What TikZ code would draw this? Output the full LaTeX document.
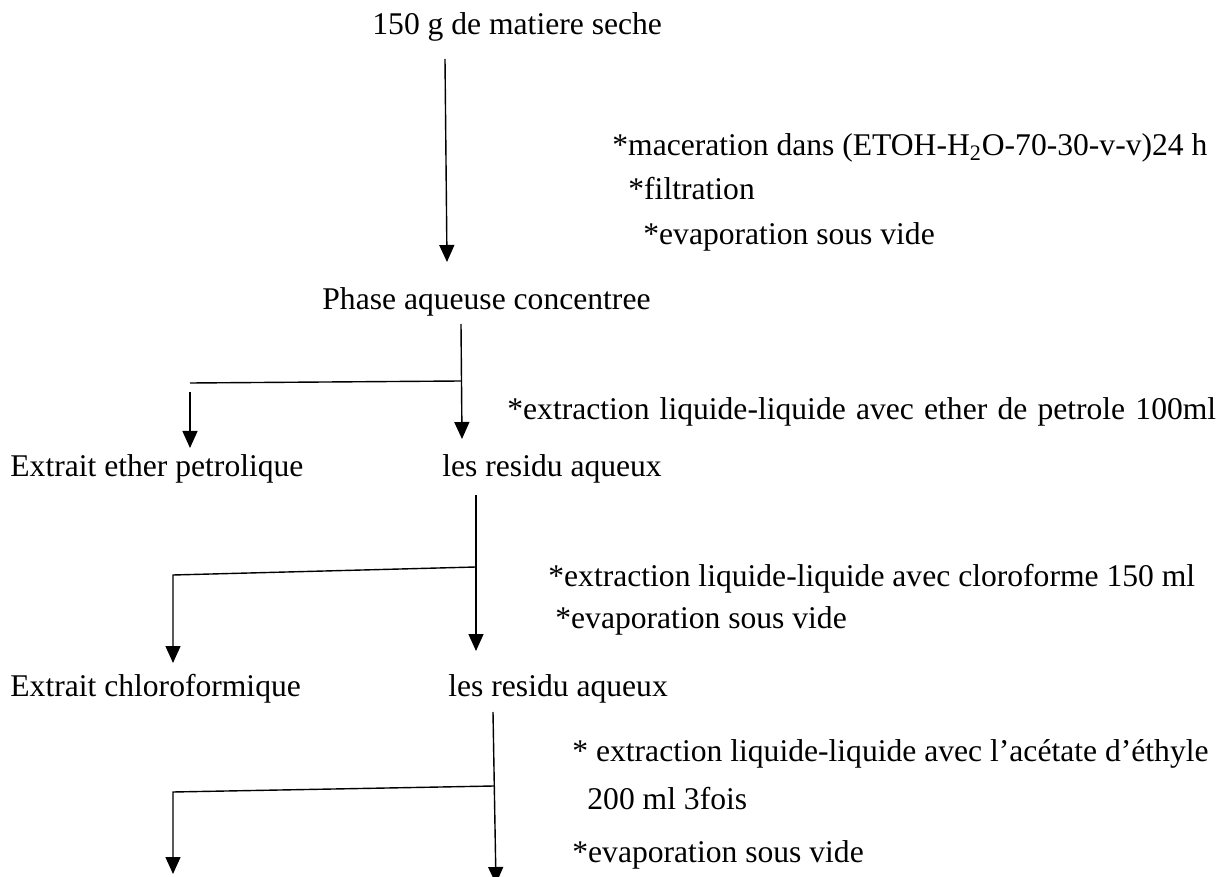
\documentclass[tikz,border=0pt]{standalone}
\usepackage{fontspec}
\setmainfont{Liberation Serif}
\usetikzlibrary{arrows.meta}

\begin{document}
\begin{tikzpicture}[x=0.5pt, y=-0.5pt,
  every node/.style={font=\fontsize{15.8}{19}\selectfont, inner sep=0pt, anchor=base west},
  ln/.style={line width=0.7pt},
  ar/.style={ln, -{Triangle[width=7.5pt, length=8.5pt]}}
]
  \useasboundingbox (0,0) rectangle (1228,877);
  \node (src) at (372,35) {150 g de matiere seche};
  \node (macer) at (612,156) {*maceration dans (ETOH-H\textsubscript{2}O-70-30-v-v)24 h};
  \node (filtr) at (628,200) {*filtration};
  \node (evap1) at (643,245) {*evaporation sous vide};
  \node (phase) at (322,310) {Phase aqueuse concentree};
  \node (extr1) at (507,420) {\spaceskip=5.1pt *extraction liquide-liquide avec ether de petrole 100ml};
  \node (ether) at (10,477) {Extrait ether petrolique};
  \node (resid1) at (442,477) {les residu aqueux};
  \node (extr2) at (548,587) {*extraction liquide-liquide avec cloroforme 150 ml};
  \node (evap2) at (555,629) {*evaporation sous vide};
  \node (chloro) at (10,697) {Extrait chloroformique};
  \node (resid2) at (448,697) {les residu aqueux};
  \node (extr3) at (572,762) {* extraction liquide-liquide avec l’acétate d’éthyle};
  \node (fois) at (587,809) {200 ml 3fois};
  \node (evap3) at (572,862) {*evaporation sous vide};

  \coordinate (m0a) at (445,59);  \coordinate (m0b) at (447,262);
  \coordinate (m1a) at (461,324); \coordinate (j1) at (461,381); \coordinate (m1b) at (462,439);
  \coordinate (l1a) at (190,383); \coordinate (l1b) at (190,392); \coordinate (l1c) at (190,448);
  \coordinate (m2a) at (476,495); \coordinate (j2) at (476,567); \coordinate (m2b) at (476,651);
  \coordinate (l2a) at (173,575); \coordinate (l2b) at (173,663);
  \coordinate (m3a) at (493,712); \coordinate (j3) at (494,786); \coordinate (m3b) at (496,884);
  \coordinate (l3a) at (173,792); \coordinate (l3b) at (173,874);

  \draw[ar] (m0a) -- (m0b);
  \draw[ar] (m1a) -- (m1b);
  \draw[ln] (j1) -- (l1a);
  \draw[ar] (l1b) -- (l1c);
  \draw[ar] (m2a) -- (m2b);
  \draw[ar] (j2) -- (l2a) -- (l2b);
  \draw[ar] (m3a) -- (m3b);
  \draw[ar] (j3) -- (l3a) -- (l3b);
\end{tikzpicture}
\end{document}
